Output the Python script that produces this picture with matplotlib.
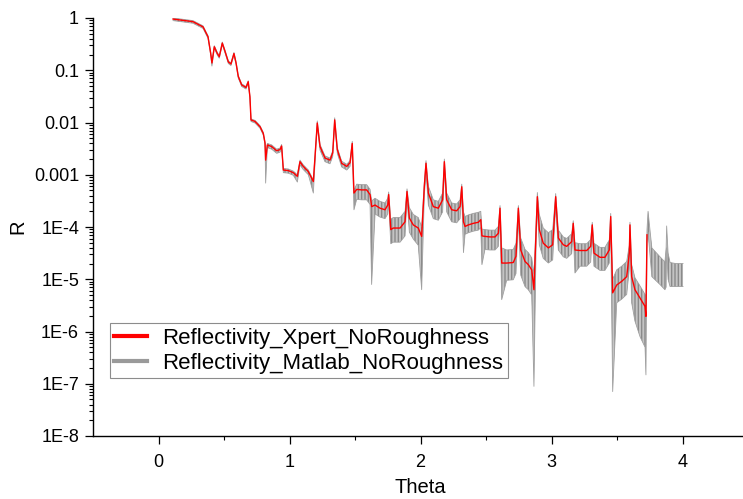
import matplotlib
matplotlib.use("Agg")
import matplotlib.pyplot as plt
import numpy as np
from matplotlib.lines import Line2D
from matplotlib.ticker import FixedLocator, FixedFormatter, LogLocator, NullFormatter

plt.rcParams['font.family'] = ['Liberation Sans', 'DejaVu Sans']

# Xpert curve: theta and log10(R)
theta_xpert = [0.111, 0.263, 0.340, 0.378, 0.398, 0.408, 0.426, 0.449, 0.464, 0.487,
               0.508, 0.533, 0.553, 0.576, 0.592, 0.609, 0.635, 0.668, 0.685, 0.698,
               0.706, 0.737, 0.775, 0.800, 0.813, 0.818, 0.831, 0.864, 0.902, 0.927,
               0.940, 0.953, 0.991, 1.029, 1.060, 1.080, 1.105, 1.144, 1.182, 1.202,
               1.212, 1.233, 1.271, 1.309, 1.330, 1.345, 1.365, 1.398, 1.437, 1.462,
               1.479, 1.492, 1.513, 1.551, 1.589, 1.615, 1.627, 1.653, 1.691, 1.729,
               1.750, 1.757, 1.773, 1.792, 1.844, 1.882, 1.897, 1.915, 1.945, 1.983,
               2.009, 2.029, 2.042, 2.060, 2.098, 2.136, 2.169, 2.182, 2.200, 2.238,
               2.276, 2.302, 2.315, 2.328, 2.340, 2.365, 2.403, 2.441, 2.460, 2.469,
               2.492, 2.531, 2.569, 2.594, 2.607, 2.620, 2.658, 2.708, 2.729, 2.747,
               2.765, 2.798, 2.823, 2.849, 2.866, 2.882, 2.892, 2.907, 2.937, 2.976,
               3.009, 3.032, 3.052, 3.090, 3.116, 3.154, 3.166, 3.179, 3.218, 3.269,
               3.299, 3.311, 3.324, 3.370, 3.408, 3.441, 3.452, 3.467, 3.498, 3.536,
               3.574, 3.594, 3.599, 3.612, 3.637, 3.676, 3.714, 3.721, 3.729]
log_xpert = [-0.02, -0.07, -0.17, -0.36, -0.67, -0.86, -0.55, -0.68, -0.74, -0.48,
             -0.64, -0.84, -0.88, -0.68, -0.86, -1.12, -1.28, -1.33, -1.22, -1.51,
             -1.95, -1.98, -2.08, -2.21, -2.39, -2.72, -2.43, -2.46, -2.54, -2.52,
             -2.45, -2.91, -2.92, -2.96, -3.03, -2.75, -2.84, -2.94, -3.13, -2.39,
             -2.01, -2.46, -2.68, -2.72, -2.58, -1.95, -2.52, -2.78, -2.84, -2.77,
             -2.40, -3.35, -3.28, -3.29, -3.29, -3.38, -3.61, -3.58, -3.64, -3.67,
             -3.58, -3.38, -4.05, -4.02, -4.02, -3.90, -3.32, -3.83, -3.96, -4.02,
             -4.18, -3.23, -2.78, -3.35, -3.61, -3.64, -3.48, -2.75, -3.48, -3.67,
             -3.69, -3.61, -3.23, -3.90, -3.99, -3.96, -3.93, -3.91, -3.86, -4.17,
             -4.18, -4.19, -4.19, -4.12, -3.64, -4.69, -4.69, -4.68, -4.56, -3.64,
             -4.44, -4.66, -4.72, -4.82, -5.20, -4.11, -3.42, -4.05, -4.31, -4.40,
             -4.34, -3.42, -4.21, -4.34, -4.37, -4.28, -3.93, -4.44, -4.45, -4.45,
             -4.37, -3.96, -4.50, -4.58, -4.58, -4.44, -3.80, -5.26, -5.11, -5.04,
             -4.95, -4.50, -3.96, -4.95, -5.20, -5.36, -5.52, -5.71, -4.15]

# Matlab curve: upper / lower envelope of its fast oscillation (log10 R)
log_matlab_hi = [0.00, -0.05, -0.15, -0.34, -0.65, -0.84, -0.53, -0.66, -0.72, -0.46,
                 -0.62, -0.82, -0.86, -0.66, -0.84, -1.10, -1.26, -1.31, -1.20, -1.49,
                 -1.93, -1.96, -2.06, -2.19, -2.37, -2.70, -2.40, -2.43, -2.51, -2.49,
                 -2.42, -2.88, -2.89, -2.93, -3.00, -2.72, -2.81, -2.91, -3.10, -2.35,
                 -1.97, -2.42, -2.64, -2.68, -2.54, -1.91, -2.48, -2.74, -2.80, -2.73,
                 -2.36, -3.30, -3.18, -3.19, -3.19, -3.28, -3.50, -3.45, -3.51, -3.54,
                 -3.45, -3.33, -3.85, -3.82, -3.82, -3.70, -3.27, -3.63, -3.76, -3.82,
                 -4.00, -3.15, -2.73, -3.22, -3.48, -3.51, -3.35, -2.70, -3.35, -3.54,
                 -3.56, -3.48, -3.18, -3.71, -3.80, -3.77, -3.74, -3.72, -3.70, -4.04,
                 -4.05, -4.06, -4.06, -3.99, -3.59, -4.40, -4.44, -4.43, -4.31, -3.59,
                 -4.21, -4.43, -4.49, -4.59, -4.90, -3.95, -3.34, -3.76, -4.02, -4.11,
                 -4.05, -3.36, -4.06, -4.19, -4.22, -4.13, -3.88, -4.30, -4.32, -4.32,
                 -4.24, -3.91, -4.31, -4.39, -4.39, -4.25, -3.74, -5.00, -4.82, -4.75,
                 -4.66, -4.35, -3.91, -4.72, -4.97, -5.13, -5.29, -5.40, -4.05]
log_matlab_lo = [-0.05, -0.10, -0.20, -0.39, -0.70, -0.92, -0.58, -0.71, -0.77, -0.51,
                 -0.67, -0.87, -0.91, -0.71, -0.89, -1.15, -1.31, -1.36, -1.25, -1.54,
                 -1.98, -2.01, -2.11, -2.24, -2.42, -3.16, -2.48, -2.51, -2.59, -2.57,
                 -2.50, -2.96, -2.97, -3.01, -3.14, -2.81, -2.90, -3.00, -3.35, -2.46,
                 -2.08, -2.53, -2.75, -2.79, -2.65, -2.02, -2.59, -2.85, -2.91, -2.84,
                 -2.47, -3.67, -3.47, -3.48, -3.48, -3.57, -5.10, -3.75, -3.81, -3.84,
                 -3.75, -3.50, -4.32, -4.29, -4.29, -4.17, -3.45, -4.10, -4.23, -4.35,
                 -5.20, -3.40, -2.95, -3.58, -3.84, -3.87, -3.71, -2.90, -3.71, -3.90,
                 -3.92, -3.84, -3.38, -4.49, -4.14, -4.11, -4.08, -4.06, -4.01, -4.72,
                 -4.43, -4.44, -4.44, -4.37, -3.84, -5.39, -5.02, -5.01, -4.89, -3.84,
                 -4.92, -5.14, -5.20, -5.30, -7.05, -4.40, -3.62, -4.34, -4.60, -4.69,
                 -4.63, -3.60, -4.44, -4.57, -4.60, -4.51, -4.10, -4.88, -4.75, -4.75,
                 -4.67, -4.15, -4.75, -4.83, -4.83, -4.69, -4.00, -7.15, -5.45, -5.38,
                 -5.29, -4.80, -4.20, -5.45, -5.80, -6.10, -6.30, -6.83, -4.30]
# Matlab curve continues past the end of the Xpert data
theta_tail = [3.737, 3.766, 3.828, 3.866, 3.875, 3.879, 3.890, 3.905, 3.950, 4.004]
log_tail_hi = [-3.70, -4.40, -4.57, -4.67, -4.40, -3.98, -4.50, -4.68, -4.70, -4.70]
log_tail_lo = [-4.10, -4.95, -5.10, -5.20, -5.15, -4.40, -5.00, -5.14, -5.14, -5.14]

ytick_vals = [1, 0.1, 0.01, 0.001, 1e-4, 1e-5, 1e-6, 1e-7, 1e-8]
ytick_text = ['1', '0.1', '0.01', '0.001', '1E-4', '1E-5', '1E-6', '1E-7', '1E-8']
labels = ['Reflectivity_Xpert_NoRoughness', 'Reflectivity_Matlab_NoRoughness']

theta_m = np.array(theta_xpert + theta_tail)
m_hi = 10 ** np.array(log_matlab_hi + log_tail_hi)
m_lo = 10 ** np.array(log_matlab_lo + log_tail_lo)
r_xpert = 10 ** np.array(log_xpert)

fig = plt.figure(figsize=(7.43, 4.99), dpi=100)
ax = fig.add_axes([93 / 743, 63 / 499, 655 / 743, 418 / 499])

ax.fill_between(theta_m, m_lo, m_hi, facecolor='#c4c4c4', edgecolor='#8a8a8a',
                hatch='|||||', linewidth=0, zorder=1)
ax.plot(theta_m, m_hi, color='#a0a0a0', lw=0.6, zorder=1)
ax.plot(theta_m, m_lo, color='#a0a0a0', lw=0.6, zorder=1)
ax.plot(theta_xpert, r_xpert, color='#ff0000', lw=1.0, zorder=2)

ax.set_yscale('log')
ax.set_ylim(1e-8, 1)
ax.set_xlim(-0.5, 4.5)
ax.yaxis.set_major_locator(FixedLocator(ytick_vals))
ax.yaxis.set_major_formatter(FixedFormatter(ytick_text))
ax.yaxis.set_minor_locator(LogLocator(base=10, subs=np.arange(2, 10)))
ax.yaxis.set_minor_formatter(NullFormatter())
ax.set_xticks([0, 1, 2, 3, 4])
ax.set_xticks([0.5, 1.5, 2.5, 3.5], minor=True)

for s in ['top', 'right']:
    ax.spines[s].set_visible(False)
for s in ['left', 'bottom']:
    ax.spines[s].set_linewidth(1.0)
ax.tick_params(which='major', direction='out', length=6, width=0.9, labelsize=13)
ax.tick_params(which='minor', direction='out', length=3, width=0.8)
ax.tick_params(axis='y', which='major', pad=4)
ax.tick_params(axis='x', which='major', pad=7)

ax.set_xlabel('Theta', fontsize=14.5)
ax.set_ylabel('R', fontsize=14.5)
ax.xaxis.set_label_coords(0.5, -0.10)
ax.yaxis.set_label_coords(-0.1, 0.5)

handles = [Line2D([], [], color='#ff0000', lw=3), Line2D([], [], color='#9a9a9a', lw=3)]
leg = ax.legend(handles, labels, loc='upper left', bbox_to_anchor=(0.026, 0.270),
                borderaxespad=0, fontsize=16, frameon=True, fancybox=False,
                handlelength=1.45, handletextpad=0.7, labelspacing=0.2, borderpad=0.2)
leg.get_frame().set_edgecolor('#707070')
leg.get_frame().set_linewidth(0.8)

fig.savefig('out.png', dpi=100)
